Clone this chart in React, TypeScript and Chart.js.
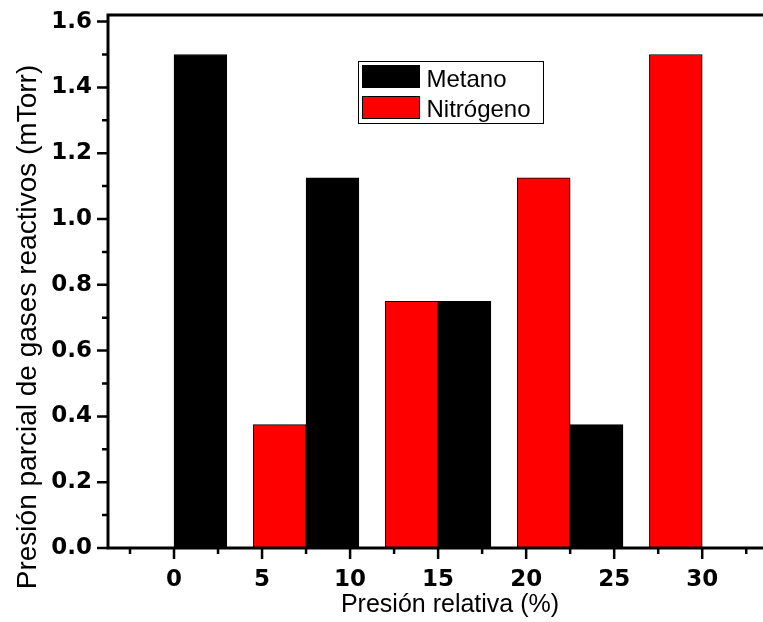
import React, { useEffect, useRef } from 'react';
import { Chart, registerables } from 'chart.js';

Chart.register(...registerables);

// ---- data ----
const relativePressure = [0, 7.5, 15, 22.5, 30];
const metano = [1.5, 1.125, 0.75, 0.375, 0];
const nitrogeno = [0, 0.375, 0.75, 1.125, 1.5];
const xMajorTicks = [0, 5, 10, 15, 20, 25, 30, 35];
const xLabelTicks = [0, 5, 10, 15, 20, 25, 30];
const xMinorTicks = [-2.5, 2.5, 7.5, 12.5, 17.5, 22.5, 27.5, 32.5];
const yMajorTicks = [0, 0.2, 0.4, 0.6, 0.8, 1.0, 1.2, 1.4, 1.6];
const yMinorTicks = [0.1, 0.3, 0.5, 0.7, 0.9, 1.1, 1.3, 1.5];
const xTitle = 'Presión relativa (%)';
const yTitle = 'Presión parcial de gases reactivos (mTorr)';

const FONT = "'Liberation Sans', Arial, sans-serif";
const TICK_FONT = "'DejaVu Sans', 'Liberation Sans', sans-serif";

const decorPlugin = {
  id: 'decor',
  afterDraw(chart: any) {
    const { ctx, chartArea: a, scales } = chart;
    const x = scales.x;
    const y = scales.y;
    ctx.save();
    ctx.strokeStyle = '#000';
    ctx.fillStyle = '#000';
    ctx.lineCap = 'butt';
    ctx.lineWidth = 2.5;
    ctx.beginPath();
    xMajorTicks.forEach((v) => {
      const px = x.getPixelForValue(v);
      ctx.moveTo(px, a.bottom);
      ctx.lineTo(px, a.bottom + 11);
    });
    xMinorTicks.forEach((v) => {
      const px = x.getPixelForValue(v);
      ctx.moveTo(px, a.bottom);
      ctx.lineTo(px, a.bottom + 6);
    });
    yMajorTicks.forEach((v) => {
      const py = y.getPixelForValue(v);
      ctx.moveTo(a.left, py);
      ctx.lineTo(a.left - 11, py);
    });
    yMinorTicks.forEach((v) => {
      const py = y.getPixelForValue(v);
      ctx.moveTo(a.left, py);
      ctx.lineTo(a.left - 6, py);
    });
    ctx.stroke();

    // frame
    ctx.lineWidth = 3;
    ctx.strokeRect(a.left, a.top, a.right - a.left, a.bottom - a.top);

    // legend (inside plot, Metano first)
    const cx = (a.left + a.right) / 2;
    const bx = Math.round(cx - 92.5) + 0.5;
    const by = Math.round(a.top + 46) + 0.5;
    ctx.lineWidth = 1;
    ctx.strokeRect(bx, by, 185, 62);
    const items = [...chart.data.datasets].reverse();
    ctx.font = `24px ${FONT}`;
    ctx.textAlign = 'left';
    ctx.textBaseline = 'alphabetic';
    items.forEach((ds: any, i: number) => {
      const sy = by + 4 + i * 31;
      ctx.fillStyle = ds.backgroundColor;
      ctx.fillRect(bx + 4, sy, 57, 22);
      ctx.strokeStyle = '#000';
      ctx.strokeRect(bx + 4, sy, 57, 22);
      ctx.fillStyle = '#000';
      ctx.fillText(ds.label, bx + 68, by + 25 + i * 30);
    });

    // axis titles
    ctx.fillStyle = '#000';
    ctx.textAlign = 'center';
    ctx.font = `25px ${FONT}`;
    ctx.fillText(xTitle, cx, 612);
    ctx.translate(36, 327);
    ctx.rotate(-Math.PI / 2);
    ctx.font = `28px ${FONT}`;
    ctx.fillText(yTitle, 0, 0);
    ctx.restore();
  },
};

export default function App() {
  const ref = useRef<HTMLCanvasElement>(null);
  useEffect(() => {
    const canvas = ref.current!;
    const chart = new Chart(canvas, {
      type: 'bar',
      data: {
        datasets: [
          {
            label: 'Nitrógeno',
            data: relativePressure.map((xv, i) => ({ x: xv, y: nitrogeno[i] })),
            backgroundColor: '#ff0000',
            borderColor: '#000000',
            borderWidth: 1,
            borderSkipped: false,
            barThickness: 'flex',
            categoryPercentage: 0.8,
            barPercentage: 1.0,
          },
          {
            label: 'Metano',
            data: relativePressure.map((xv, i) => ({ x: xv, y: metano[i] })),
            backgroundColor: '#000000',
            borderColor: '#000000',
            borderWidth: 1,
            borderSkipped: false,
            barThickness: 'flex',
            categoryPercentage: 0.8,
            barPercentage: 1.0,
          },
        ],
      },
      options: {
        responsive: false,
        animation: false,
        devicePixelRatio: 1,
        layout: { padding: { top: 15, right: 8, left: 0, bottom: 0 } },
        plugins: {
          legend: { display: false },
          tooltip: { enabled: false },
        },
        scales: {
          x: {
            type: 'linear',
            min: -3.75,
            max: 35.1,
            offset: false,
            grid: { display: false, drawTicks: false },
            border: { display: false },
            afterBuildTicks: (scale: any) => {
              scale.ticks = xLabelTicks.map((v) => ({ value: v }));
            },
            afterFit: (scale: any) => {
              scale.height = 74;
              scale.paddingLeft = 0;
              scale.paddingRight = 0;
            },
            ticks: {
              autoSkip: false,
              maxRotation: 0,
              padding: 18,
              color: '#000',
              font: { family: TICK_FONT, size: 23, weight: 'bold' },
              callback: (v: any) => String(v),
            },
          },
          y: {
            type: 'linear',
            min: 0,
            max: 1.62,
            grid: { display: false, drawTicks: false },
            border: { display: false },
            afterBuildTicks: (scale: any) => {
              scale.ticks = yMajorTicks.map((v) => ({ value: v }));
            },
            afterFit: (scale: any) => {
              scale.width = 108;
              scale.paddingTop = 0;
              scale.paddingBottom = 0;
            },
            ticks: {
              autoSkip: false,
              padding: 16,
              color: '#000',
              font: { family: TICK_FONT, size: 23, weight: 'bold' },
              callback: (v: any) => Number(v).toFixed(1),
            },
          },
        },
      },
      plugins: [decorPlugin],
    } as any);
    return () => chart.destroy();
  }, []);
  return (
    <div
      style={{
        position: 'absolute',
        left: 0,
        top: 0,
        width: 763,
        height: 622,
        overflow: 'hidden',
        background: '#fff',
      }}
    >
      <canvas ref={ref} width={800} height={622} style={{ display: 'block', width: 800, height: 622 }} />
    </div>
  );
}
